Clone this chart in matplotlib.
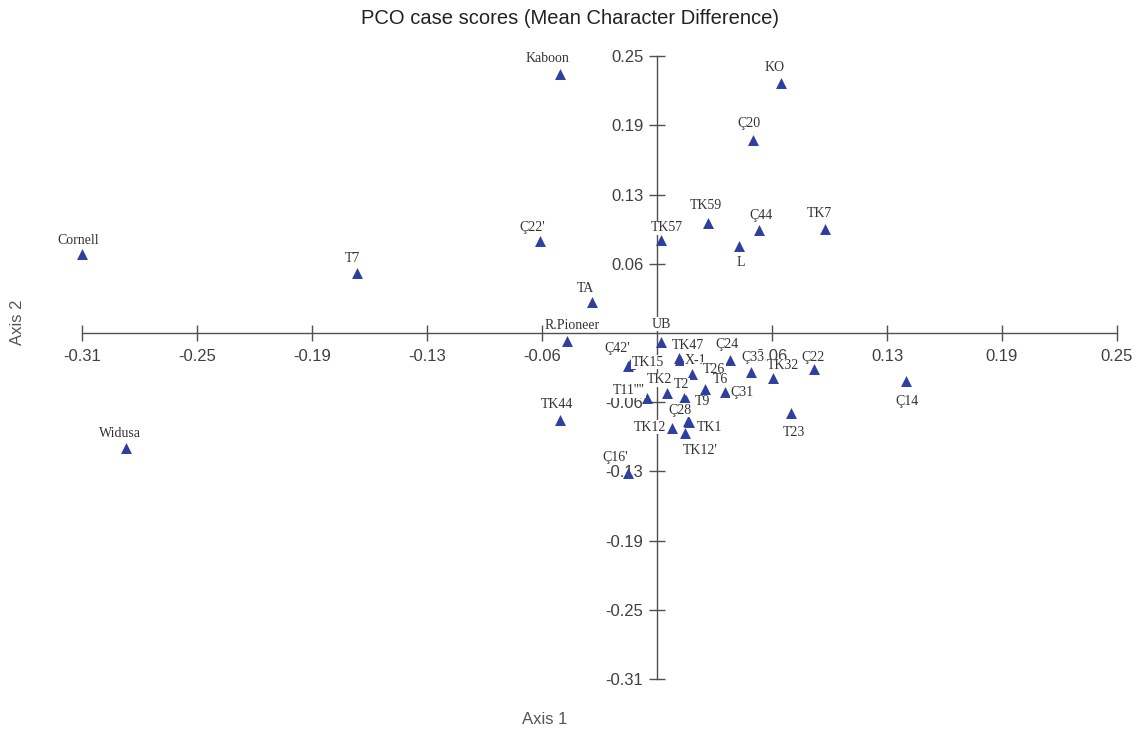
import matplotlib
matplotlib.use("Agg")
import matplotlib.pyplot as plt

# PCO case scores (Axis 1, Axis 2)
names = ["Cornell", "T7", "Kaboon", "Ç22'", "TA", "R.Pioneer", "UB", "TK57", "TK59", "L",
         "Ç20", "KO", "Ç44", "TK7", "Widusa", "TK44", "Ç16'", "Ç42'", "TK15", "TK47",
         "X-1", "T26", "T6", "TK2", "T2", "T9", "T11''''", "Ç28", "TK1", "TK12",
         "TK12'", "Ç24", "Ç33", "TK32", "Ç22", "Ç31", "T23", "Ç14"]
axis1 = [-0.3110, -0.1623, -0.0525, -0.0633, -0.0352, -0.0487, 0.0022, 0.0022, 0.0276, 0.0444,
         0.0519, 0.0671, 0.0552, 0.0909, -0.2872, -0.0525, -0.0157, -0.0157, -0.0146, 0.0119,
         0.0124, 0.0189, 0.0260, 0.0054, 0.0146, 0.0157, -0.0054, 0.0168, 0.0173, 0.0081,
         0.0151, 0.0395, 0.0508, 0.0627, 0.0849, 0.0368, 0.0725, 0.1347]
axis2 = [0.0710, 0.0539, 0.2328, 0.0827, 0.0279, -0.0072, -0.0081, 0.0836, 0.0989, 0.0782,
         0.1735, 0.2247, 0.0926, 0.0935, -0.1034, -0.0782, -0.1258, -0.0297, -0.0279, -0.0225,
         -0.0243, -0.0369, -0.0503, -0.0539, -0.0584, -0.0602, -0.0584, -0.0791, -0.0800, -0.0854,
         -0.0899, -0.0243, -0.0351, -0.0404, -0.0324, -0.0530, -0.0719, -0.0431]

tick_labels = ["-0.31", "-0.25", "-0.19", "-0.13", "-0.06", "0.06", "0.13", "0.19", "0.25"]

# label offsets in pixels (dx, dy up)
offsets = {
    "Cornell": (-4, 14), "T7": (-4, 15), "Kaboon": (-12, 16), "Ç22'": (-8, 13), "TA": (-6, 13),
    "R.Pioneer": (5, 16), "UB": (0, 18), "TK57": (6, 12), "TK59": (-2, 17), "L": (2, -17),
    "Ç20": (-4, 16), "KO": (-6, 16), "Ç44": (2, 14), "TK7": (-6, 15), "Widusa": (-6, 15),
    "TK44": (-3, 16), "Ç16'": (-13, 15), "Ç42'": (-11, 18), "TK15": (18, 2), "TK47": (9, 13),
    "X-1": (16, 0), "T26": (22, 5), "T6": (15, 9), "TK2": (-7, 13), "T2": (-2, 13),
    "T9": (16, -2), "T11''''": (-18, 7), "Ç28": (-8, 11), "TK1": (21, -5), "TK12": (-22, 1),
    "TK12'": (15, -17), "Ç24": (-3, 16), "Ç33": (2, 15), "TK32": (10, 12), "Ç22": (-1, 12),
    "Ç31": (17, -1), "T23": (3, -20), "Ç14": (1, -21),
}

step = 0.0622
ticks = [k * step for k in range(-5, 5) if k != 0]

fig = plt.figure(figsize=(11.46, 7.32), dpi=100)
ax = fig.add_axes([0, 0, 1, 1])
# pixel mapping: zero at (657, 333), 115 px per step on x, 69.2 px per step on y
ax.set_xlim(-657 / 115 * step, (1146 - 657) / 115 * step)
ax.set_ylim((333 - 732) / 69.2 * step, 333 / 69.2 * step)
ax.patch.set_visible(False)

for side in ["top", "right"]:
    ax.spines[side].set_visible(False)
ax.spines["left"].set_position("zero")
ax.spines["bottom"].set_position("zero")
ax.spines["left"].set_bounds(-5 * step, 4 * step)
ax.spines["bottom"].set_bounds(-5 * step, 4 * step)
for side in ["left", "bottom"]:
    ax.spines[side].set_color("#505050")
    ax.spines[side].set_linewidth(1.0)

ax.set_xticks(ticks)
ax.set_xticklabels(tick_labels)
ax.set_yticks(ticks)
ax.set_yticklabels(tick_labels)
ax.tick_params(direction="inout", length=11.5, width=1.0, color="#505050",
               labelsize=12, labelcolor="#404040", pad=4)
ax.tick_params(axis="x", pad=6)
for lab in ax.get_xticklabels() + ax.get_yticklabels():
    lab.set_family("Liberation Sans")

ax.scatter(axis1, axis2, marker="^", s=62, color="#2f3fa0", zorder=3, linewidths=0)

for n, x, y in zip(names, axis1, axis2):
    dx, dy = offsets[n]
    ax.annotate(n, (x, y), xytext=(dx, dy), textcoords="offset pixels",
                ha="center", va="center", fontsize=10, family="Liberation Serif",
                color="#333333", zorder=4,
                bbox=dict(boxstyle="square,pad=0.05", fc="white", ec="none"))

fig.text(570 / 1146, 1 - 18 / 732, "PCO case scores (Mean Character Difference)",
         ha="center", va="center", fontsize=14.5, family="Liberation Sans", color="#222222")
fig.text(545 / 1146, 1 - 720 / 732, "Axis 1", ha="center", va="center",
         fontsize=12, family="Liberation Sans", color="#555555")
fig.text(18 / 1146, 1 - 322 / 732, "Axis 2", ha="center", va="center", rotation=90,
         fontsize=12, family="Liberation Sans", color="#555555")

fig.savefig("out.png", dpi=100)
